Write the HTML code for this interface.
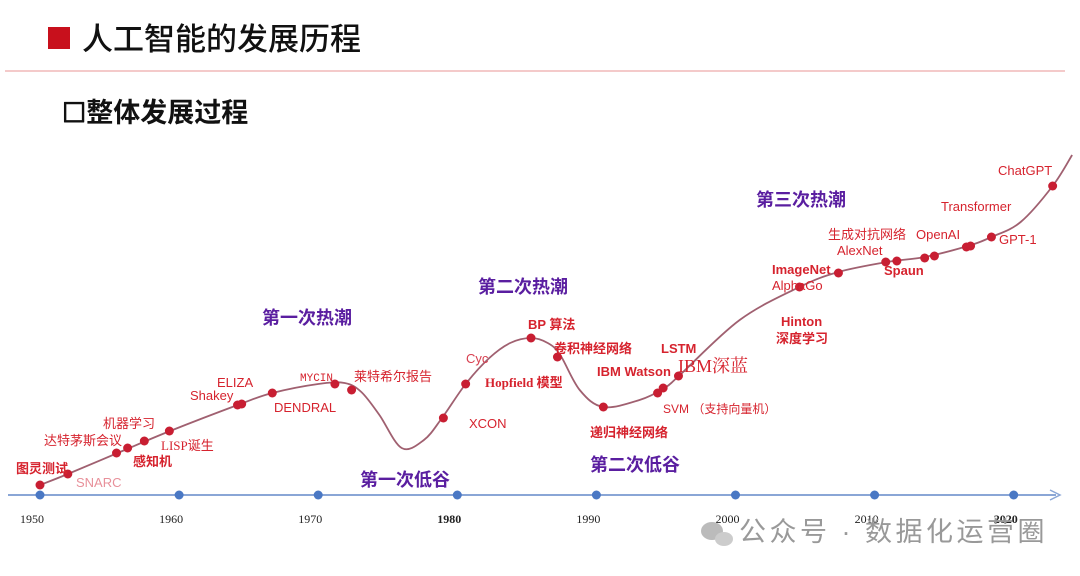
<!DOCTYPE html>
<html><head><meta charset="utf-8"><style>
body{margin:0;background:#fff}
svg{display:block;font-family:"Liberation Sans","Noto Sans CJK SC",sans-serif}
.r{fill:#d6232e;font-size:13px}
.b{font-weight:bold}
.p{fill:#5a1ea0;font-size:18px;font-weight:bold}
.yr{font-family:"Liberation Serif",serif;font-size:12px;fill:#222}
</style></head><body>
<svg id="c" width="1080" height="576">
<rect x="48" y="27" width="22" height="22" fill="#c8101c"/>
<text x="82" y="50" font-size="31" fill="#111" font-weight="500">人工智能的发展历程</text>
<line x1="5" y1="71" x2="1065" y2="71" stroke="#f0b8b8" stroke-width="1.5"/>
<text x="62" y="122" font-size="27" fill="#111" font-weight="bold">☐整体发展过程</text>
<g id="axis"></g>
<path id="curve" fill="none" stroke="#a06070" stroke-width="1.8"/>
<g id="dots"></g>
<g>
<text class="r b" x="16" y="473">图灵测试</text>
<text class="r" x="76" y="487" style="fill:#e8909a">SNARC</text>
<text class="r" x="44" y="445">达特茅斯会议</text>
<text class="r b" x="133" y="466">感知机</text>
<text class="r" x="103" y="428">机器学习</text>
<text class="r" x="161" y="450" font-family="Liberation Serif">LISP诞生</text>
<text class="r" x="190" y="400">Shakey</text>
<text class="r" x="217" y="387">ELIZA</text>
<text class="r" x="274" y="412">DENDRAL</text>
<text class="r" x="300" y="381" style="font-size:11px;font-family:'Liberation Mono',monospace">MYCIN</text>
<text class="r" x="354" y="381">莱特希尔报告</text>
<text class="r" x="469" y="428">XCON</text>
<text class="r" x="466" y="363" style="fill:#d84050">Cyc</text>
<text class="r b" x="485" y="387" style="font-family:'Liberation Serif','Noto Sans CJK SC',serif">Hopfield <tspan font-family="Noto Sans CJK SC">模型</tspan></text>
<text class="r b" x="528" y="329">BP 算法</text>
<text class="r b" x="554" y="353">卷积神经网络</text>
<text class="r b" x="597" y="376">IBM Watson</text>
<text class="r b" x="661" y="353">LSTM</text>
<text x="678" y="372" font-size="18" fill="#d6232e" font-family="Liberation Serif,Noto Serif CJK SC,serif">IBM深蓝</text>
<text class="r" x="663" y="413" style="font-size:12px">SVM （支持向量机）</text>
<text class="r b" x="590" y="437">递归神经网络</text>
<text class="r b" x="781" y="326">Hinton</text>
<text class="r b" x="776" y="343">深度学习</text>
<text class="r b" x="772" y="274">ImageNet</text>
<text class="r" x="772" y="290">AlphaGo</text>
<text class="r" x="837" y="255">AlexNet</text>
<text class="r" x="828" y="239">生成对抗网络</text>
<text class="r b" x="884" y="275">Spaun</text>
<text class="r" x="916" y="239">OpenAI</text>
<text class="r" x="941" y="211">Transformer</text>
<text class="r" x="999" y="244">GPT-1</text>
<text class="r" x="998" y="175">ChatGPT</text>
</g>
<g>
<text class="p" x="262" y="324">第一次热潮</text>
<text class="p" x="478" y="293">第二次热潮</text>
<text class="p" x="756" y="206">第三次热潮</text>
<text class="p" x="360" y="486">第一次低谷</text>
<text class="p" x="590" y="471">第二次低谷</text>
</g>
<g>
<ellipse cx="712" cy="531" rx="11" ry="9" fill="#bbb"/><ellipse cx="724" cy="539" rx="9" ry="7" fill="#ccc"/>
<text x="739" y="541" font-size="27" letter-spacing="3.5" fill="#999">公众号 · 数据化运营圈</text>
</g>
</svg>
<script>
const tickYears=[1950,1960,1970,1980,1990,2000,2010,2020];
const curveYears=[1950,1952,1955.75,1959.35,1964.4,1966.7,1970,1971.9,1973.1,1974.4,1976,1977.6,1978.9,1980.6,1982.3,1983.8,1985.3,1986.5,1987.4,1988.8,1990.5,1993.1,1994.9,1996,2000.3,2004.6,2007.4,2010.9,2013.6,2016.7,2018.4,2020.5,2022.8,2024.2];
const curveLevels=[10,21,43,64,91,102,111,112,103,80,47,55,77,111,137,152,157,152,140,105,88,95,107,120,175,208,223,233,238,249,258,273,309,340];
const dotYears=[1950,1952,1955.5,1956.3,1957.5,1959.3,1964.2,1964.5,1966.7,1971.2,1972.4,1979,1980.6,1985.3,1987.2,1990.5,1994.4,1994.8,1995.9,2004.6,2007.4,2010.8,2011.6,2013.6,2014.3,2016.6,2016.9,2018.4,2022.8];
const dotLevels=[10,21,42,47,54,64,90,91,102,111,105,77,111,157,138,88,102,107,119,208,222,233,234,237,239,248,249,258,309];
const X=y=>40+(y-1950)*13.91, Y=v=>495-v;
const NS="http://www.w3.org/2000/svg";
const ax=document.getElementById('axis');
let l=document.createElementNS(NS,'line');


l.setAttribute('x1',8);l.setAttribute('x2',1056);l.setAttribute('y1',495);l.setAttribute('y2',495);l.setAttribute('stroke','#8aa6d6');l.setAttribute('stroke-width',2);ax.appendChild(l);
let a=document.createElementNS(NS,'path');


a.setAttribute('d','M1050 490 L1060 495 L1050 500');a.setAttribute('fill','none');a.setAttribute('stroke','#8aa6d6');a.setAttribute('stroke-width',1.5);ax.appendChild(a);
tickYears.forEach(t=>{
 let c=document.createElementNS(NS,'circle');
 
 
 c.setAttribute('cx',X(t));c.setAttribute('cy',495);c.setAttribute('r',4.5);c.setAttribute('fill','#4a78c4');ax.appendChild(c);
 let tx=document.createElementNS(NS,'text');
 
 
 tx.setAttribute('class','yr');tx.setAttribute('x',X(t)-20);tx.setAttribute('y',523);
 if(t==1980||t==2020)tx.setAttribute('font-weight','bold');
 tx.textContent=t;ax.appendChild(tx);
});
const P=curveYears.map((y,i)=>[X(y),Y(curveLevels[i])]);
let d='M'+P[0][0]+' '+P[0][1];
for(let i=0;i<P.length-1;i++){
 const p0=P[Math.max(0,i-1)],p1=P[i],p2=P[i+1],p3=P[Math.min(P.length-1,i+2)];
 d+=` C${p1[0]+(p2[0]-p0[0])/6} ${p1[1]+(p2[1]-p0[1])/6} ${p2[0]-(p3[0]-p1[0])/6} ${p2[1]-(p3[1]-p1[1])/6} ${p2[0]} ${p2[1]}`;
}
document.getElementById('curve').setAttribute('d',d);
const dg=document.getElementById('dots');
dotYears.forEach((y,i)=>{
 let c=document.createElementNS(NS,'circle');
 
 
 c.setAttribute('cx',X(y));c.setAttribute('cy',Y(dotLevels[i]));c.setAttribute('r',4.5);c.setAttribute('fill','#c81e32');dg.appendChild(c);
});
</script>
</body></html>
